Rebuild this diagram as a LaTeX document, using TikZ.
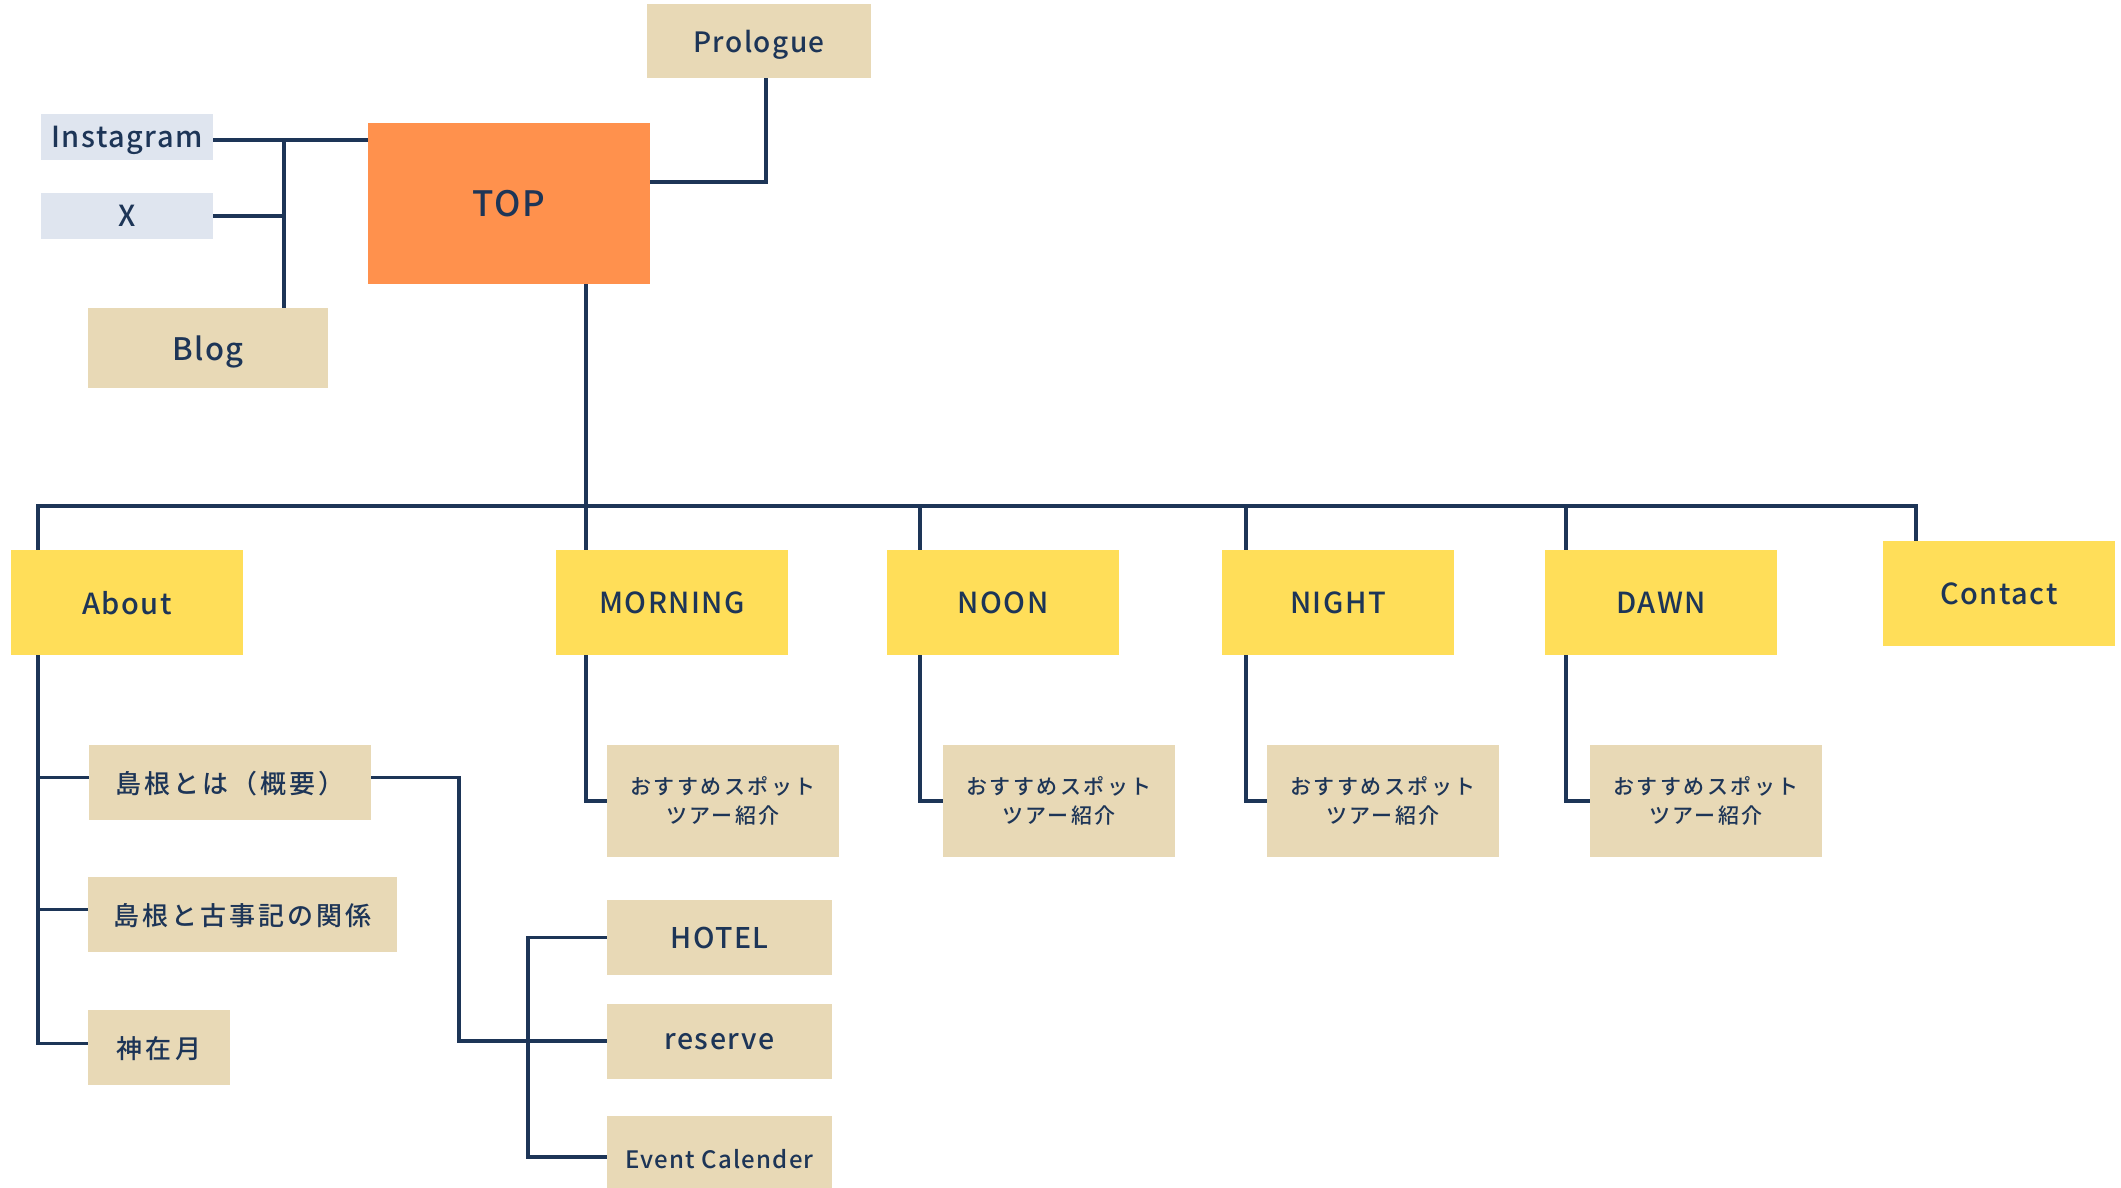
\documentclass[tikz,border=0pt]{standalone}
\usepackage{fontspec}
\setmainfont{Noto Sans CJK JP Medium}[LetterSpace=5]
\newfontfamily\jp{Noto Sans CJK JP Medium}[LetterSpace=12]
\definecolor{navy}{HTML}{1D3557}
\definecolor{toporange}{HTML}{FF914D}
\definecolor{pageyellow}{HTML}{FFDE59}
\definecolor{subbeige}{HTML}{E8D9B6}
\definecolor{snsgray}{HTML}{DFE5EF}
\newcommand{\fs}[1]{\fontsize{#1}{#1}\selectfont}

\begin{document}
\begin{tikzpicture}[x=1pt, y=-1pt,
    box/.style={rectangle, inner sep=0pt, text=navy, align=center},
    topbox/.style={box, fill=toporange, minimum width=282pt,
                   minimum height=161pt, text depth=0pt, font=\fs{35}},
    page/.style={box, fill=pageyellow, minimum width=232pt,
                 minimum height=105pt, text depth=0pt, font=\fs{29}},
    sub/.style={box, fill=subbeige, minimum height=75pt, text depth=0pt,
                font=\fs{28.5}},
    jsub/.style={sub, font=\jp\fs{26}},
    sns/.style={box, fill=snsgray, minimum width=172pt,
                minimum height=46pt, text depth=0pt, font=\fs{29}},
    spot/.style={box, fill=subbeige, minimum width=232pt,
                 minimum height=112pt, font=\jp\fontsize{21}{29}\selectfont},
    rel/.style={draw=navy, line width=3.2pt}
]
\useasboundingbox (0,0) rectangle (2121,1187);

% Noduri (pagini)
\node[topbox] (top)       at (509,203.5)  {TOP};
\node[sub, minimum width=224pt, minimum height=74pt, font=\fs{28}] (prologue) at (759,41) {Prologue};
\node[sns] (instagram)    at (127,137)    {Instagram};
\node[sns] (xlink)        at (127,216)    {X};
\node[sub, minimum width=240pt, minimum height=80pt, font=\fs{31}] (blog) at (208,348) {Blog};

\node[page] (about)       at (127,602.5)  {About};
\node[page] (morning)     at (672,602.5)  {MORNING};
\node[page] (noon)        at (1003,602.5) {NOON};
\node[page] (night)       at (1338,602.5) {NIGHT};
\node[page] (dawn)        at (1661,602.5) {DAWN};
\node[page] (contact)     at (1999,593.5) {Contact};

\node[spot] (mspot)       at (723,801)    {おすすめスポット\\ツアー紹介};
\node[spot] (nspot)       at (1059,801)   {おすすめスポット\\ツアー紹介};
\node[spot] (ntspot)      at (1383,801)   {おすすめスポット\\ツアー紹介};
\node[spot] (dspot)       at (1706,801)   {おすすめスポット\\ツアー紹介};

\node[jsub, minimum width=282pt] (gaiyou)  at (230,782.5)   {島根とは（概要）};
\node[jsub, minimum width=309pt] (kojiki)  at (242.5,914.5) {島根と古事記の関係};
\node[jsub, minimum width=142pt] (kamiari) at (159,1047.5)  {神在月};

\node[sub, minimum width=225pt] (hotel)   at (719.5,937.5) {HOTEL};
\node[sub, minimum width=225pt] (reserve) at (719.5,1041)  {reserve};
\node[sub, minimum width=225pt, minimum height=85pt, font=\fs{24}] (event) at (719.5,1158.5) {Event Calender};

% puncte de ramificare
\coordinate (snsbus) at (284,140);
\coordinate (plg)    at (766,182);
\coordinate (busL)   at (38,506);
\coordinate (busR)   at (1916,506);
\coordinate (bm)     at (586,506);
\coordinate (bn)     at (920,506);
\coordinate (bnt)    at (1246,506);
\coordinate (bd)     at (1566,506);
\coordinate (bend)   at (459,0);
\coordinate (hub)    at (528,0);

% SNS -> TOP
\draw[rel] (instagram.east |- snsbus) -- (top.west |- snsbus);
\draw[rel] (xlink.east) -- (xlink.east -| snsbus);
\draw[rel] (snsbus) -- (snsbus |- blog.north);

% TOP -> Prologue
\draw[rel] (top.east |- plg) -| (prologue.south -| plg);

% TOP -> meniu principal
\draw[rel] (top.south -| bm) -- (bm);
\draw[rel] (about.north -| busL) -- (busL) -- (busR) -- (busR |- contact.north);
\foreach \c/\n/\s in {bm/morning/mspot, bn/noon/nspot, bnt/night/ntspot, bd/dawn/dspot} {
  \draw[rel] (\c) -- (\c |- \n.north);
  \draw[rel] (\n.south -| \c) |- (\s.west);
}

% About -> subpagini
\draw[rel] (about.south -| busL) |- ([yshift=4pt]kamiari.west);
\foreach \n in {gaiyou, kojiki}
  \draw[rel] ([yshift=5pt]\n.west) -- ([yshift=5pt]\n.west -| busL);

% Gaiyou -> reserve, HOTEL / Event Calender
\draw[rel] ([yshift=5pt]gaiyou.east) -| (bend |- reserve.west) -- (reserve.west);
\draw[rel] (hotel.west) -- (hotel.west -| hub) -- ([yshift=1.5pt]event.west -| hub) -- ([yshift=1.5pt]event.west);

\end{tikzpicture}
\end{document}
